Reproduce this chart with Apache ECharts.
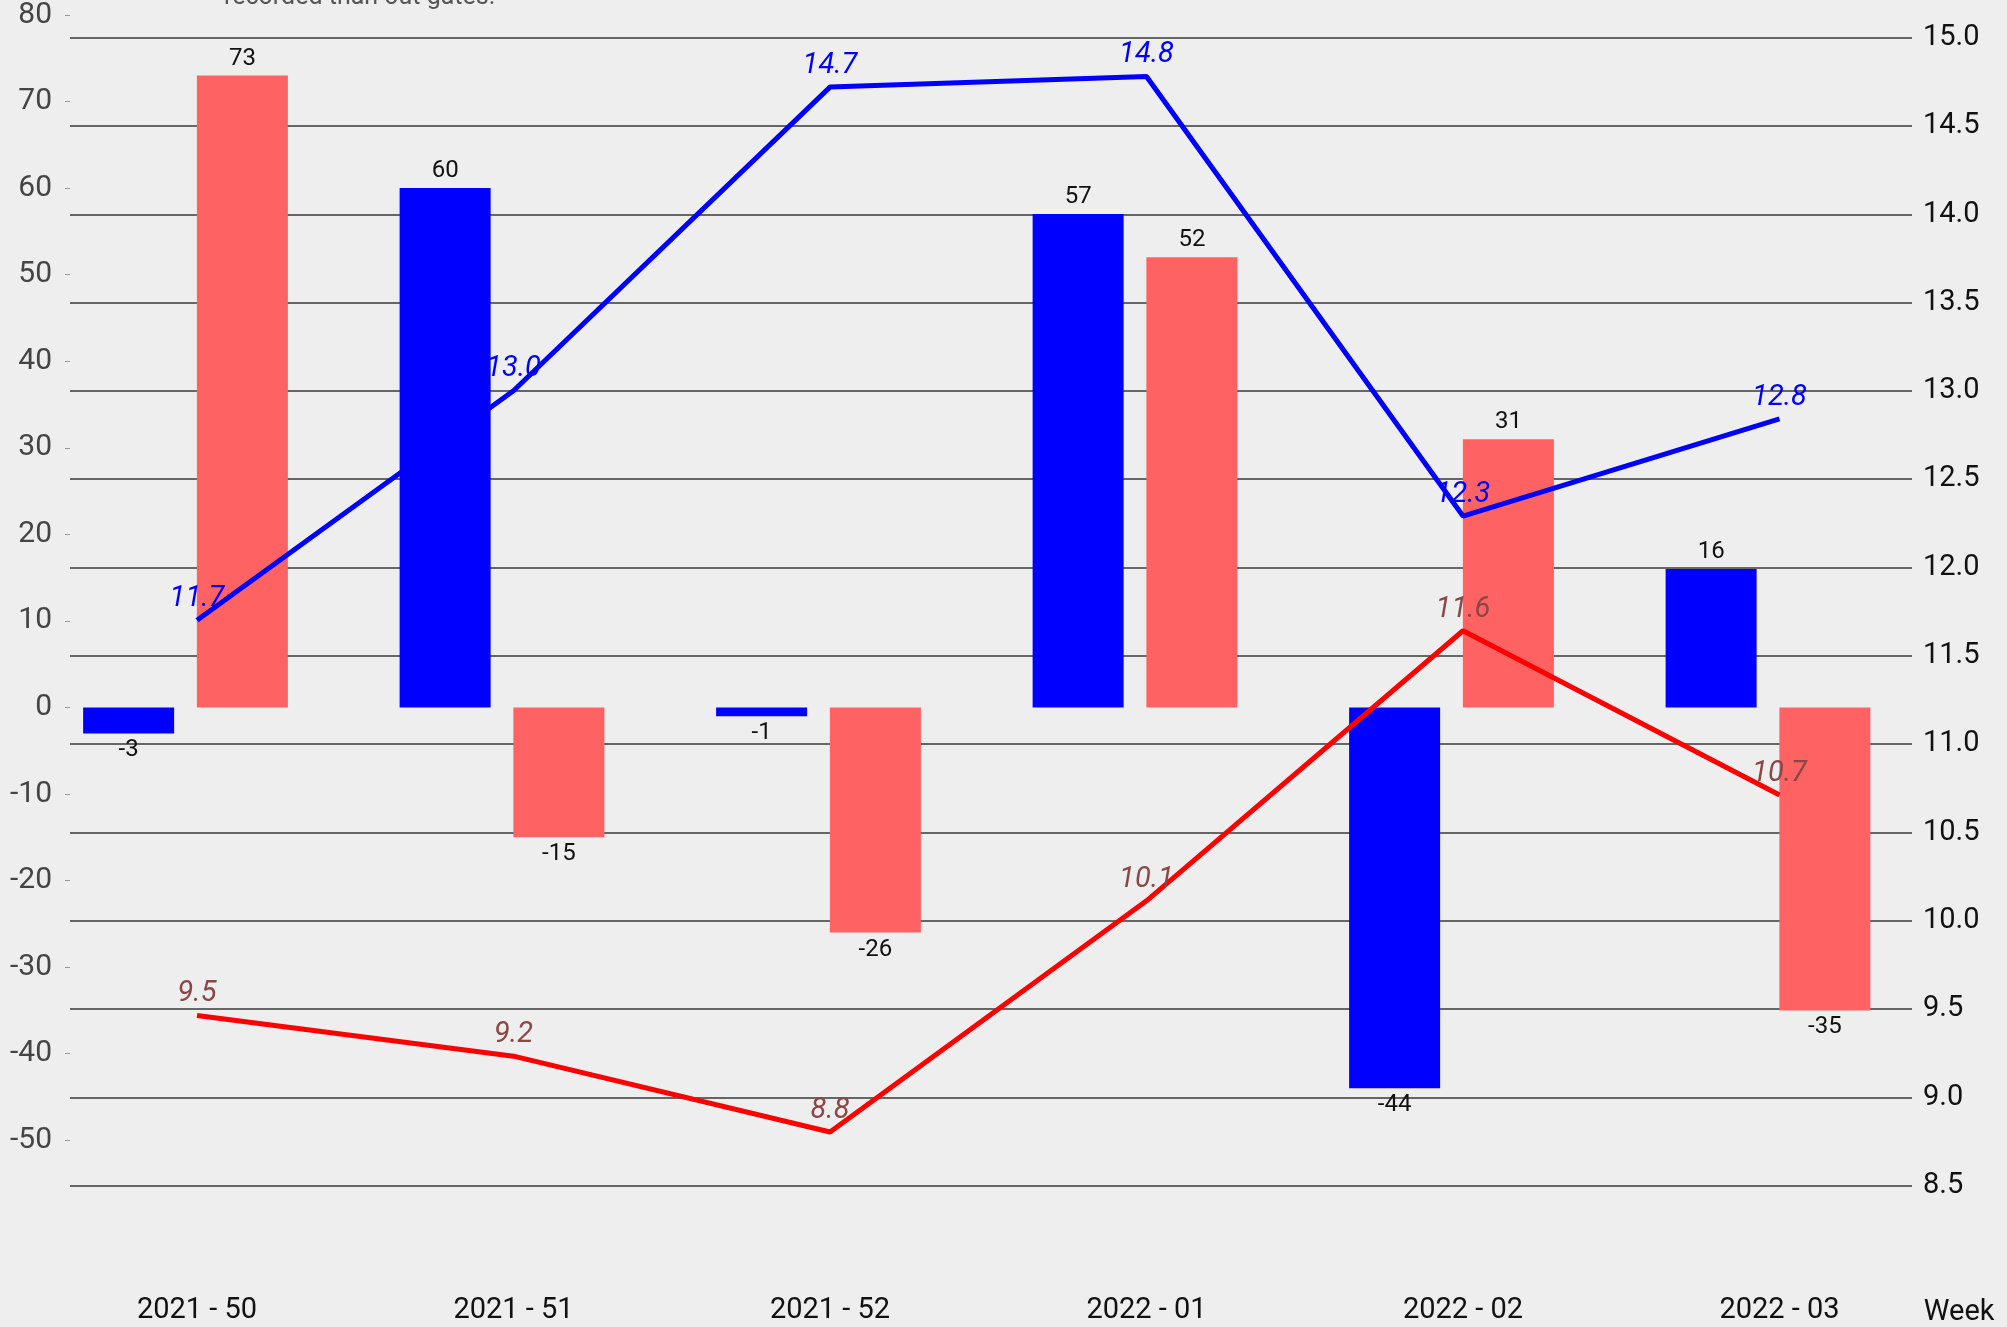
<!DOCTYPE html>
<html>
<head>
<meta charset="utf-8">
<script src="https://cdn.jsdelivr.net/npm/echarts@6/dist/echarts.min.js"></script>
<style>
  html, body { margin: 0; padding: 0; background: #eeeeee; }
  #chart { width: 2007px; height: 1327px; }
</style>
</head>
<body>
<div id="chart"></div>
<script>
const weeks = ['2021 - 50', '2021 - 51', '2021 - 52', '2022 - 01', '2022 - 02', '2022 - 03']
const blueBars = [-3, 60, -1, 57, -44, 16]
const redBars = [73, -15, -26, 52, 31, -35]
const blueLine = [11.7, 13.0, 14.72, 14.78, 12.29, 12.84]
const redLine = [9.46, 9.23, 8.8, 10.11, 11.64, 10.71]

const font = 'Roboto'

function barData(values) {
  return values.map((v) => ({ value: v, label: { position: v < 0 ? 'bottom' : 'top' } }))
}

const chart = echarts.init(document.getElementById('chart'))
chart.setOption({
  backgroundColor: '#eeeeee',
  animation: false,
  textStyle: { fontFamily: font },
  title: {
    text: 'recorded than out gates.',
    left: 219,
    top: -20,
    textStyle: { fontFamily: font, fontSize: 25, fontWeight: 'normal', color: '#555' },
  },
  grid: [
    // bars
    { left: 27.25, right: 80.75, top: 13.7, bottom: 186.7 },
    // lines
    { left: 38.75, right: 69.25, top: 37.7, bottom: 141.3 },
    // split lines and right axis
    { left: 70, right: 100, top: 37.7, bottom: 141.3 },
  ],
  xAxis: [
    { gridIndex: 0, type: 'category', data: weeks, show: false },
    {
      gridIndex: 1,
      type: 'category',
      data: weeks,
      axisLine: { show: false },
      axisTick: { show: false },
      axisLabel: { margin: 111, fontSize: 29, color: '#111', fontFamily: font },
      name: 'Week',
      nameLocation: 'end',
      nameGap: -14,
      nameTextStyle: { fontSize: 29, color: '#111', fontFamily: font, verticalAlign: 'top', padding: [113, 0, 0, 0] },
    },
    { gridIndex: 2, type: 'category', data: weeks, show: false },
  ],
  yAxis: [
    {
      gridIndex: 0,
      type: 'value',
      position: 'left',
      min: -50,
      max: 80,
      interval: 10,
      offset: -42.75,
      axisLine: { show: false },
      axisTick: { show: true, length: 5, lineStyle: { color: '#999', width: 1 } },
      axisLabel: { margin: 18, fontSize: 30, color: '#444', fontFamily: font },
      splitLine: { show: false },
    },
    { gridIndex: 1, type: 'value', min: 8.5, max: 15, interval: 0.5, show: false },
    {
      gridIndex: 2,
      type: 'value',
      position: 'right',
      min: 8.5,
      max: 15,
      interval: 0.5,
      axisLine: { show: false },
      axisTick: { show: true, length: 5, lineStyle: { color: '#666', width: 2 } },
      axisLabel: { margin: 16, fontSize: 29, color: '#111', fontFamily: font, formatter: (v) => v.toFixed(1) },
      splitLine: { show: true, lineStyle: { color: '#666', width: 2 } },
    },
  ],
  series: [
    {
      type: 'bar',
      xAxisIndex: 0,
      yAxisIndex: 0,
      data: barData(blueBars),
      barWidth: 91,
      barGap: '25%',
      itemStyle: { color: '#0000ff' },
      label: { show: true, distance: 5, fontSize: 24, color: '#111', fontFamily: font },
    },
    {
      type: 'bar',
      xAxisIndex: 0,
      yAxisIndex: 0,
      data: barData(redBars),
      barWidth: 91,
      barGap: '25%',
      itemStyle: { color: '#ff6262' },
      label: { show: true, distance: 5, fontSize: 24, color: '#111', fontFamily: font },
    },
    {
      type: 'line',
      xAxisIndex: 1,
      yAxisIndex: 1,
      data: blueLine,
      symbolSize: 0,
      lineStyle: { color: '#0000ff', width: 5 },
      itemStyle: { color: '#0000ff' },
      label: {
        show: true,
        position: 'top',
        distance: 7,
        fontSize: 29,
        fontStyle: 'italic',
        color: '#0000ff',
        fontFamily: font,
        formatter: (p) => p.value.toFixed(1),
      },
      z: 5,
    },
    {
      type: 'line',
      xAxisIndex: 1,
      yAxisIndex: 1,
      data: redLine,
      symbolSize: 0,
      lineStyle: { color: '#ff0000', width: 5 },
      itemStyle: { color: '#ff0000' },
      label: {
        show: true,
        position: 'top',
        distance: 7,
        fontSize: 29,
        fontStyle: 'italic',
        color: '#8b4646',
        fontFamily: font,
        formatter: (p) => p.value.toFixed(1),
      },
      z: 5,
    },
  ],
})

window.addEventListener('resize', () => chart.resize())
</script>
</body>
</html>
